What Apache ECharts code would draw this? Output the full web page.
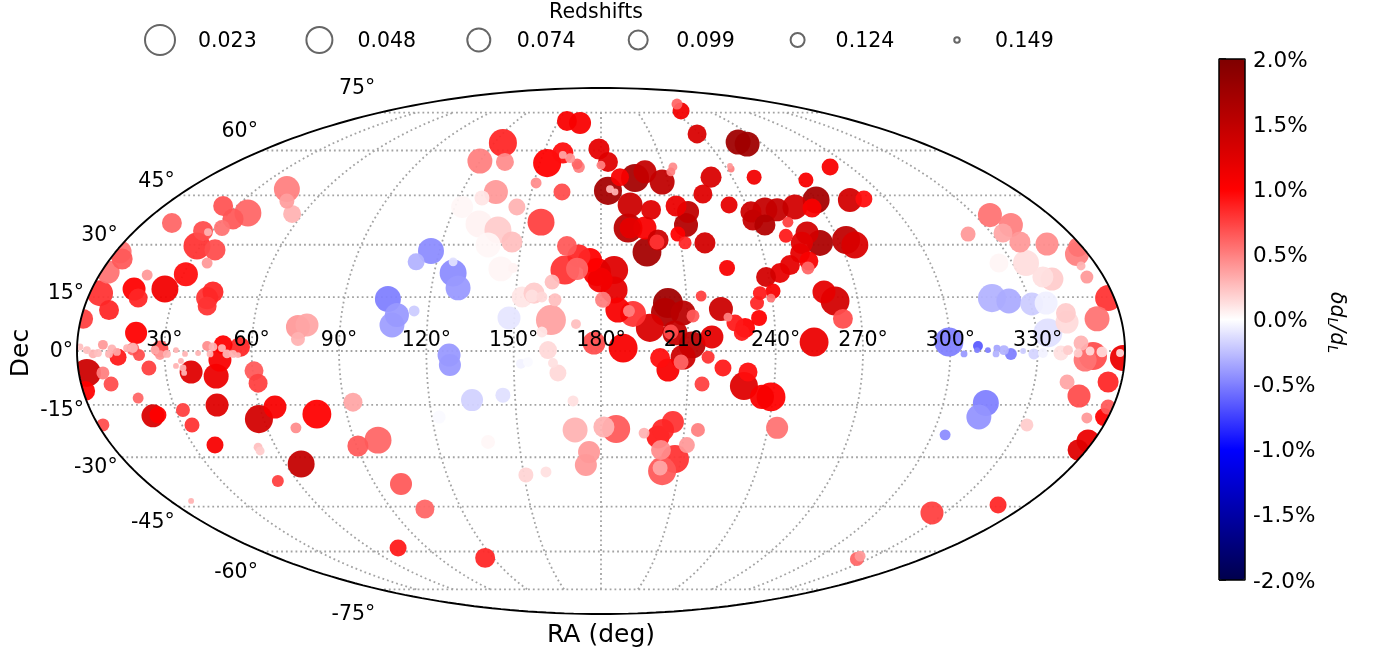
<!DOCTYPE html>
<html><head><meta charset="utf-8">
<style>html,body{margin:0;padding:0;background:#fff}#c{width:1385px;height:656px}</style>
<script src="https://cdn.jsdelivr.net/npm/echarts@6/dist/echarts.min.js"></script>
</head><body><div id="c"></div>
<script>
// Rows: [x in the Mollweide plane (deg, -180..180), y in the plane (deg, -90..90), redshift, dL/L %]
const westNorth=[[-107.9,55.4,.048,.5],[-107.9,51.3,.119,.38],[-106.1,46.9,.104,.3],[-129.8,49.6,.093,.67],[-121.3,47.2,.042,.6],[-126.4,45.2,.086,.65],[-130.2,42.1,.114,.55],[-147.4,43.8,.093,.6],[-136.7,41.1,.093,.7],[-135,40.7,.142,.3],[-138.8,35.9,.042,.8],[-132.6,34.6,.086,.7],[-135.3,30.1,.133,.4],[-165.2,33.9,.074,.55],[-164.5,31.5,.086,.65],[-169.3,27,.074,.55],[-155.9,26,.133,.4],[-142.6,26.3,.065,.95],[-149.8,21.2,.042,1.1],[-160.4,21.2,.074,1],[-159,18.1,.099,.85],[-172.1,19.8,.048,.8],[-169,14,.093,.85],[-133.3,20.2,.086,.85],[-135.3,18.1,.08,.8],[-135.3,15.4,.099,.8],[-177.9,11,.093,.75],[-159.7,6.2,.08,1],[-104.1,8.2,.065,.4],[-101,8.9,.074,.35],[-104.1,4.1,.124,.3]];
const westSouth=[[-176.6,-7.5,.035,1.4],[-177.2,-13.7,.093,1],[-171.1,-7.5,.127,.5],[-168.3,-11.3,.119,.7],[-165.9,-2.1,.109,.9],[-158.7,-1.4,.13,.7],[-171.1,2.1,.136,.4],[-155.3,-5.8,.119,.75],[-159,-16.1,.133,.6],[-153.9,-22.2,.074,1.3],[-152.2,-21.9,.109,1],[-171.1,-25.3,.127,.7],[-143.6,-20.2,.124,.75],[-140.5,-25.3,.119,.8],[-140.8,-7.2,.074,1.25],[-132.2,-8.6,.057,1.15],[-130.9,-3.1,.074,1.05],[-131.9,-18.5,.074,1.25],[-132.6,-32.2,.109,1.05],[-119.2,-6.8,.099,.65],[-117.8,-11,.099,.75],[-117.5,-23.3,.035,1.35],[-112,-19.2,.074,1.05],[-97.6,-21.6,.03,1],[-104.8,-26.3,.133,.45],[-85.2,-17.5,.099,.35],[-83.5,-32.5,.086,.65],[-103,-38.7,.042,1.45],[-111,-44.5,.13,.75],[-117.8,-32.9,.139,.25],[-117.1,-34.2,.139,.2],[-140.8,-51.3,.148,.3],[-146,-5.1,.148,.3],[-144.3,-3.4,.148,.3],[-143.6,-5.8,.145,.3],[-143.2,-7.5,.148,.3]];
const westEquator=[[-179,1.4,.145,.25],[-176.6,.3,.142,.25],[-174.5,-1,.139,.3],[-172.8,-.7,.142,.25],[-169,-1,.142,.3],[-168,.7,.139,.3],[-166.3,-.3,.142,.35],[-162.8,1,.142,.3],[-160.8,.7,.127,.6],[-160.8,1,.136,.3],[-153.2,.3,.139,.35],[-151.5,.7,.109,.7],[-151.5,-1.4,.136,.4],[-149.1,-1,.142,.3],[-146,.3,.148,.3],[-142.9,-1,.148,.3],[-138.4,-.7,.148,.3],[-135.3,1.7,.136,.45],[-133.3,1.4,.139,.3],[-134.3,-1,.145,.3],[-130.2,1,.142,.3],[-128.5,-1,.139,.3],[-126.4,-1,.142,.3],[-124.7,-1.4,.148,.3],[-129.8,2.1,.099,1],[-124,1.4,.093,.85]];
const midSouth=[[-76.6,-30.5,.042,.6],[-68.7,-45.5,.08,.65],[-60.5,-54.1,.099,.6],[-69.7,-67.4,.109,.9],[-39.8,-70.8,.093,.85],[-51.9,-4.8,.08,-.4],[-44.3,-16.8,.08,-.18],[-33.7,-15.1,.119,-.12],[-55.6,-22.6,.127,-.02],[-38.8,-31.1,.124,.03],[-25.8,-42.4,.119,.17],[-18.9,-41.4,.133,.12],[-8.9,-27,.057,.3],[-4.1,-34.6,.08,.4],[-5.2,-39,.08,.4],[-9.6,-17.1,.133,.12],[-14.8,-7.5,.109,.15],[-16.5,-4.1,.136,.12],[-27.5,-4.4,.136,-.05],[-25.1,-3.8,.136,-.02]];
const midNorth=[[-33.7,71.2,.035,.85],[-41.6,65,.057,.5],[-33,64.7,.104,.45],[-18.5,64.3,.035,1],[-13.1,67.8,.086,.95],[-13.1,67.1,.142,.35],[-10.6,66,.136,.4],[-8.2,64,.133,.6],[-7.6,63,.13,.5],[-22.3,57.5,.133,.45],[-13.4,54.4,.109,.7],[-36.1,54.4,.065,.4],[-40.9,52.4,.119,.1],[-28.9,49.3,.109,.3],[-47.7,49.3,.08,.03],[-20.6,44.1,.042,.75],[-41.9,43.5,.042,.05],[-35.4,41.4,.042,.2],[-30.6,37.3,.086,.25],[-38.8,36.3,.057,.03],[-34.4,28.1,.057,.04],[-30.2,28.4,.136,.05],[-58.4,34.2,.048,-.45],[-63.5,30.5,.109,-.3],[-50.8,26.7,.042,-.45],[-50.8,30.5,.139,-.12],[-49.1,21.6,.057,-.4],[-73.2,17.8,.048,-.5],[-70.1,12.3,.065,-.4],[-71.8,8.9,.057,-.38],[-64.2,13.7,.133,-.2],[-31.6,11.3,.074,-.1],[-27.1,18.5,.086,.1],[-23,19.8,.086,.2],[-23.7,18.8,.127,.12],[-20.3,18.5,.133,.15],[-15.8,17.5,.127,.25],[-16.8,23.6,.119,.25],[-17.2,10.6,.023,.37],[-20.3,6.5,.133,.1],[-8.6,9.2,.136,.25],[-18.2,.3,.104,.15],[-52.2,-1.4,.074,-.4]];
const centerRed=[[-2.4,2.7,.074,.7],[7.6,1,.03,1.05],[-12.4,27.7,.03,.8],[-11.7,35.9,.093,.65],[-7.6,32.5,.074,.85],[-8.2,28.1,.08,.6],[-3.8,31.1,.065,1],[-1.4,27,.035,1.05],[4.5,27.7,.035,1.25],[4.5,20.9,.042,1.2],[.7,17.5,.114,.5],[5.8,14,.057,1.05],[11,12.7,.048,.8],[9.6,13.7,.13,.5],[-.3,24.3,.057,1.1]];
const northHot=[[-11.7,78.7,.093,1.05],[-7.2,78,.08,1.05],[26.1,84.5,.133,.6],[27.5,82.1,.109,1.1],[33,74.3,.099,1.3],[47.1,71.5,.057,1.75],[50.2,70.8,.057,1.75],[-.7,69.1,.086,1.2],[2.4,64.7,.093,1.25],[78.7,63,.109,1.05],[70.4,58.5,.119,1.05],[52.6,59.5,.119,1.1],[44.3,63.3,.148,.4],[44.7,62.3,.145,.5],[24.7,63,.139,.45],[24,61.3,.139,.5],[37.8,59.5,.086,1.3],[35,53.7,.099,1.25],[11.7,59.2,.035,1.7],[15.1,61.3,.074,1.45],[21,57.8,.057,1.5],[6.5,59.5,.104,1.05],[2.4,54.8,.035,1.7],[3.1,55.4,.142,.3],[4.8,54.4,.145,.3],[0,63.6,.139,.5],[10,50,.057,1.4],[17.2,48.3,.093,1.25],[25.8,49.6,.086,1.15],[29.9,47.6,.08,1.5],[29.2,43.1,.065,1.6],[26.4,40,.119,1],[28.9,37,.127,.85],[35.7,37,.086,1.35],[43.3,28.4,.114,1.05],[44,50,.109,1.2],[51.5,47.6,.086,1.4],[52.2,44.8,.086,1.45],[56.3,48.3,.057,1.45],[56.3,43.1,.086,1.6],[60.5,48.3,.074,1.45],[66.6,49.3,.057,1.35],[73.9,51.7,.042,1.7],[72.5,48.9,.099,1.05],[64.2,44.1,.133,.75],[63.5,39.4,.124,.9],[70.8,40.4,.074,1.35],[69,37,.08,1.25],[75.2,37,.048,1.65],[68.4,33.5,.093,1.2],[71.4,30.8,.099,1.05],[71.1,28.4,.127,.6],[84.2,38,.035,1.5],[87.2,36.3,.042,1.3],[85.5,51.7,.065,1.35],[90.3,52,.109,.95],[64.9,29.4,.093,1.2],[61.5,26.7,.093,1.2],[56.7,25.3,.093,1.35],[9.3,42.1,.03,1.55],[10,42.1,.086,1.2],[15.1,42.1,.074,1.05],[15.8,33.9,.03,1.7],[19.6,38,.086,1.4],[19.2,37.3,.119,.8]];
const centerSouth=[[23,16.4,.023,1.75],[28.2,13,.057,1.55],[22,13.3,.035,1.6],[16.8,7.9,.035,1.3],[31.6,12,.127,.65],[34.4,18.8,.133,.75],[41.2,14.4,.065,1.4],[43.6,11.6,.139,.5],[46,9.6,.109,.9],[49.5,7.9,.093,1],[48.4,6.2,.114,.9],[54.3,11.3,.114,1],[53.6,16.4,.124,.85],[54.6,19.8,.124,.9],[59.1,20.5,.119,1.05],[58.4,18.1,.139,.55],[76.6,20.2,.074,1.2],[80.4,17.1,.03,1.35],[83.1,11,.093,.7],[73.2,3.1,.03,1.15],[25.4,6.2,.057,1.45],[24,6.5,.119,.7],[31.3,2.1,.042,1.55],[38.1,4.8,.074,1.2],[28.2,-2.1,.057,1.4],[36.8,-2.1,.127,.8],[27.5,-3.8,.119,.6],[20.3,-2.4,.093,.95],[23,-6.5,.074,1.05],[41.9,-5.8,.109,.9],[34.7,-11.3,.119,.75],[49.1,-12,.035,1.25],[50.5,-7.2,.099,.95],[55.3,-15.7,.065,1.05],[58.4,-15.7,.03,1],[60.5,-26.3,.08,.55],[33.3,-27,.124,.5],[29.5,-32.2,.114,.4],[24.7,-24.3,.08,.8],[21.3,-27,.08,.85],[19.6,-29.4,.074,.9],[14.8,-28.1,.133,.3],[20.6,-33.9,.093,.45],[25.4,-37,.035,.8],[21,-41.1,.035,.65],[20.3,-40,.119,.35],[1,-26,.086,.3],[5.2,-26.7,.035,.65]];
const eastNorth=[[133.6,46.5,.065,.55],[140.8,43.1,.065,.5],[138.1,40.4,.099,.35],[143.9,37.3,.086,.4],[126.1,40,.119,.4],[153.2,36.6,.074,.45],[163.5,33.2,.065,.5],[164.9,29.1,.139,.3],[166.9,25.3,.127,.4],[163.9,35.6,.093,.55],[136.7,30.1,.099,.04],[146,30.1,.048,.13],[151.8,25.3,.086,.12],[154.9,24.6,.074,.2],[134.3,18.1,.035,-.3],[140.1,17.1,.057,-.33],[148,16.1,.074,-.2],[152.9,16.4,.074,-.06],[159.7,13,.093,.2],[160.1,9.9,.074,.14],[170.4,11,.057,.55],[174.2,18.1,.048,.8],[153.5,6.2,.03,-.12],[119.5,3.1,.03,-.5]];
const eastEquator=[[129.5,1.7,.136,-.65],[124.7,-1,.145,-.4],[132.9,.3,.148,-.5],[129.2,.3,.148,-.5],[136,1,.145,-.35],[138.4,.3,.136,-.3],[135.7,-1,.145,-.3],[140.8,-1,.13,-.5],[145,0,.148,-.2],[148.7,-1,.133,-.17],[151.8,-.7,.136,-.05],[158,-.7,.119,.12],[160.4,.3,.136,.2],[163.9,-.7,.139,.2],[168,0,.139,.15],[172.1,-.3,.133,.15],[178.3,-.7,.142,.15],[166.3,-3.1,.074,.55],[169,-1.7,.035,.7],[164.9,2.7,.119,.3],[179.3,-2.4,.048,1.15]];
const eastSouth=[[174.2,-10.6,.086,.85],[160.1,-10.6,.119,.35],[164.2,-15.4,.074,.7],[132.2,-17.8,.048,-.5],[129.8,-22.6,.057,-.42],[118.2,-28.7,.133,-.45],[146.3,-25.3,.127,.2],[166.9,-22.9,.133,.4],[172.8,-22.6,.104,1],[174.2,-19.2,.119,.65],[167.3,-30.8,.074,1.15],[163.9,-33.9,.086,1.25],[136.4,-52.7,.109,.85],[113.7,-55.4,.074,.75],[87.9,-71.2,.124,.6],[89,-70.2,.133,.4]];

const legendRedshifts=[0.023,0.048,0.074,0.099,0.124,0.149];
const legendSizes=[30,26,23,19,14,5.5];
const raTicks=[30,60,90,120,150,180,210,240,270,300,330];
const decTicks=[75,60,45,30,15,0,-15,-30,-45,-60,-75];
const colorStops=['#00004c','#0000ff','#ffffff','#ff0000','#7f0000'];

const FONT='DejaVu Sans';
const TXT={fontFamily:FONT,fontSize:20.5,color:'#000'};
function sizeOf(z){
  for(let i=0;i<legendRedshifts.length-1;i++){
    if(z<=legendRedshifts[i+1]){
      const t=(z-legendRedshifts[i])/(legendRedshifts[i+1]-legendRedshifts[i]);
      return legendSizes[i]+Math.max(t,0)*(legendSizes[i+1]-legendSizes[i]);
    }
  }
  return legendSizes[legendSizes.length-1];
}
// Mollweide projection to the plane (x in -180..180, y in -90..90)
function moll(lon,lat){
  const phi=lat*Math.PI/180;let th=phi;
  for(let i=0;i<40;i++){th-=(2*th+Math.sin(2*th)-Math.PI*Math.sin(phi))/(2+2*Math.cos(2*th));}
  return [lon*Math.cos(th),90*Math.sin(th)];
}
const points=[].concat(westNorth,westSouth,westEquator,midSouth,midNorth,centerRed,northHot,centerSouth,eastNorth,eastEquator,eastSouth).sort((a,b)=>a[2]-b[2]);

const gridSeries=[];
const gridStyle={color:'#a3a3a3',width:1.8,type:[1.8,3]};
decTicks.forEach(lat=>{const d=[];for(let l=-180;l<=180;l+=5)d.push(moll(l,lat));
  gridSeries.push({type:'line',xAxisIndex:0,yAxisIndex:0,data:d,showSymbol:false,silent:true,lineStyle:gridStyle,z:1});});
raTicks.forEach(ra=>{const d=[];for(let la=-75;la<=75;la+=2.5)d.push(moll(ra-180,la));
  gridSeries.push({type:'line',xAxisIndex:0,yAxisIndex:0,data:d,showSymbol:false,silent:true,lineStyle:gridStyle,z:1});});

const ell=[];for(let a=0;a<=360;a+=1){ell.push([180*Math.cos(a*Math.PI/180),90*Math.sin(a*Math.PI/180)]);}
const maskPts=[[-186,0],[-186,92],[186,92],[186,-92],[-186,-92],[-186,0]];
for(let a=180;a<=540;a+=2){maskPts.push([180*Math.cos(a*Math.PI/180),90*Math.sin(a*Math.PI/180)]);}

const option={
  animation:false,backgroundColor:'#fff',textStyle:{fontFamily:FONT,color:'#000'},
  title:{text:'Redshifts',left:591,top:-3,textAlign:'center',textStyle:Object.assign({},TXT,{fontWeight:'normal'})},
  grid:[
    {left:77,top:88,width:1048,height:526,outerBoundsMode:'none'},
    {left:1219,top:59,width:26,height:521,outerBoundsMode:'none'},
    {left:160,top:0,width:797,height:80,outerBoundsMode:'none'}
  ],
  xAxis:[
    {gridIndex:0,type:'value',min:-180,max:180,splitLine:{show:false},axisLine:{show:false},axisTick:{show:false},axisLabel:{show:false},name:'RA (deg)',nameLocation:'middle',nameGap:9,nameTextStyle:{fontFamily:FONT,fontSize:25,color:'#000'}},
    {gridIndex:1,type:'value',min:0,max:1,show:false},
    {gridIndex:2,type:'value',min:0,max:5,show:false}
  ],
  yAxis:[
    {gridIndex:0,type:'value',min:-90,max:90,splitLine:{show:false},axisLine:{show:false},axisTick:{show:false},axisLabel:{show:false},name:'Dec',nameLocation:'middle',nameGap:43,nameTextStyle:{fontFamily:FONT,fontSize:25,color:'#000',padding:[0,4,0,0]}},
    {gridIndex:1,type:'value',position:'right',min:-2,max:2,interval:.5,splitLine:{show:false},axisLine:{show:false},
      axisTick:{show:true,length:7,lineStyle:{color:'#000',width:1.5}},
      axisLabel:{margin:8,fontFamily:FONT,fontSize:21.5,color:'#000',verticalAlign:'top',lineHeight:4,formatter:v=>v.toFixed(1)+'%'},
      name:'{d|δd}{s|L}{d|/d}{s|L}',nameLocation:'middle',nameRotate:-90,nameGap:80,
      nameTextStyle:{padding:[0,0,0,6],rich:{d:{fontFamily:FONT,fontSize:20.5,fontStyle:'italic',color:'#000'},s:{fontFamily:FONT,fontSize:14,fontStyle:'italic',color:'#000',verticalAlign:'bottom',padding:[8,0,0,0]}}}},
    {gridIndex:2,type:'value',min:0,max:1,show:false}
  ],
  visualMap:[{type:'continuous',seriesIndex:0,dimension:3,min:-2,max:2,inRange:{color:colorStops},left:1219,top:59,itemWidth:26,itemHeight:521,padding:0,calculable:false,text:null,showLabel:false,textStyle:{fontSize:0},hoverLink:false,silent:true}],
  series:[
    {type:'scatter',xAxisIndex:0,yAxisIndex:0,data:points,encode:{x:0,y:1},clip:false,symbolSize:v=>sizeOf(v[2]),itemStyle:{opacity:.94},z:3,silent:true,progressive:0},
    {type:'custom',xAxisIndex:0,yAxisIndex:0,data:[[0,0]],clip:false,silent:true,z:5,
      renderItem:(p,api)=>({type:'polygon',shape:{points:maskPts.map(q=>api.coord(q))},style:{fill:'#fff',stroke:null}})},
    {type:'line',xAxisIndex:0,yAxisIndex:0,data:ell,showSymbol:false,silent:true,clip:false,lineStyle:{color:'#000',width:1.9},z:6},
    {type:'scatter',xAxisIndex:0,yAxisIndex:0,clip:false,silent:true,z:8,symbolSize:0,itemStyle:{opacity:1},
      data:raTicks.map(r=>({value:[r-180,0],label:{formatter:r+'°'}})),
      label:Object.assign({show:true,position:'top',distance:0},TXT)},
    {type:'scatter',xAxisIndex:0,yAxisIndex:0,clip:false,silent:true,z:8,symbolSize:0,itemStyle:{opacity:1},
      data:decTicks.map(l=>({value:moll(-180,l),label:{formatter:l+'°',offset:[0,-0.33*l+1]}})),
      label:Object.assign({show:true,position:'left',distance:4},TXT)},
    {type:'line',xAxisIndex:1,yAxisIndex:1,data:[[0,-2],[1,-2],[1,2],[0,2],[0,-2]],showSymbol:false,silent:true,clip:false,lineStyle:{color:'#000',width:1.5},z:9},
    {type:'scatter',xAxisIndex:2,yAxisIndex:2,silent:true,data:legendRedshifts.map((z,i)=>[i,.5,z]),symbolSize:v=>legendSizes[v[0]],itemStyle:{opacity:1,color:'rgba(0,0,0,0)',borderColor:'#666',borderWidth:2},z:3},
    {type:'scatter',xAxisIndex:2,yAxisIndex:2,silent:true,symbolSize:0,itemStyle:{opacity:1},data:legendRedshifts.map((z,i)=>({value:[i,.5],label:{formatter:z.toFixed(3)}})),label:Object.assign({show:true,position:'right',distance:0,offset:[38,2]},TXT),z:3}
  ].concat(gridSeries)
};
const chart=echarts.init(document.getElementById('c'),null,{renderer:'canvas',width:1385,height:656});
chart.setOption(option);
</script></body></html>
